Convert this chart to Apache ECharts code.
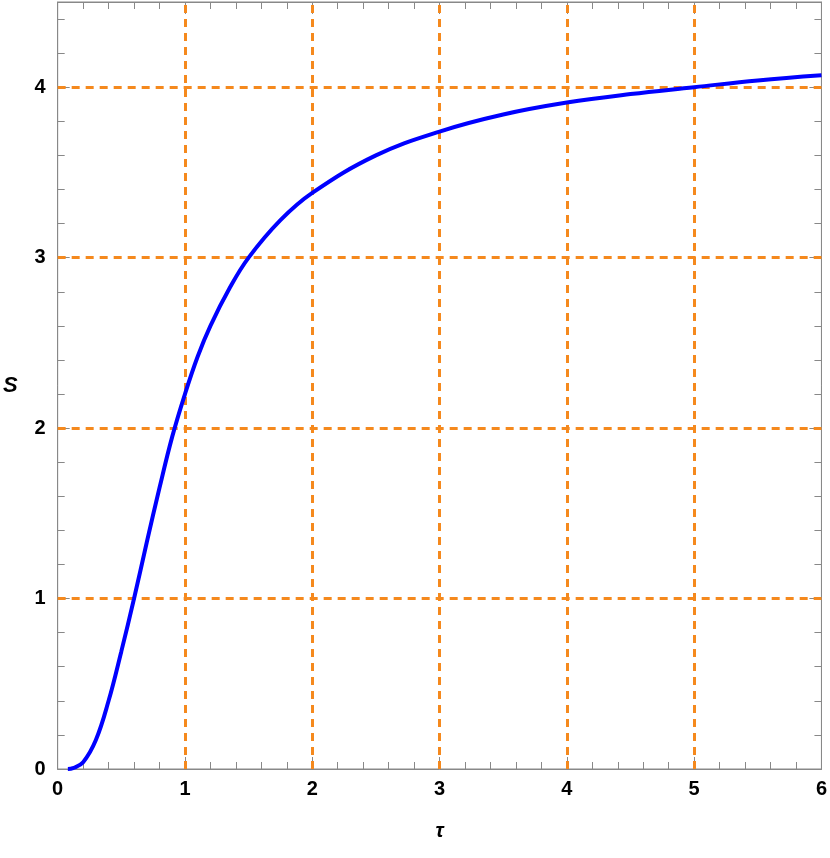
<!DOCTYPE html>
<html><head><meta charset="utf-8">
<script src="https://cdn.jsdelivr.net/npm/echarts@6/dist/echarts.min.js"></script>
<style>html,body{margin:0;padding:0;background:#fff}#c{width:830px;height:858px}</style>
</head><body><div id="c"></div>
<script>
const tauValues = [0.08,0.12,0.2,0.3,0.4,0.5,0.6,0.7,0.8,0.9,1.0,1.1,1.2,1.35,1.5,1.75,2.0,2.5,3.0,3.5,4.0,4.5,5.0,5.5,6.0];
const sValues   = [0.0,0.005,0.04,0.17,0.4,0.69,1.0,1.33,1.65,1.95,2.2,2.42,2.6,2.82,3.0,3.22,3.38,3.6,3.74,3.84,3.91,3.96,4.0,4.04,4.07];
const xGridLines = [1,2,3,4,5];
const yGridLines = [1,2,3,4];
const xTicks = [0,1,2,3,4,5,6];
const yTicks = [0,1,2,3,4];

const data = tauValues.map((t,i)=>[t,sValues[i]]);
const lbl = {fontFamily:'Liberation Sans',fontWeight:'bold',fontSize:20,color:'#000'};
function common(){return {
  show:true, gridIndex:0,
  axisLine:{show:true,onZero:false,lineStyle:{color:'#888',width:1}},
  axisTick:{show:true,inside:true,length:12,lineStyle:{color:'#888'}},
  minorTick:{show:true,splitNumber:5,length:7,lineStyle:{color:'#888'}},
  splitLine:{show:false}
};}
const chart = echarts.init(document.getElementById('c'));
chart.setOption({
  animation:false,
  grid:{left:53,right:8,top:2,bottom:89,show:true,borderColor:'#888',borderWidth:1},
  xAxis:[
    Object.assign(common(),{type:'value',min:0,max:6,interval:1,position:'bottom',
      name:'τ',nameLocation:'middle',nameGap:52,
      nameTextStyle:Object.assign({},lbl,{fontStyle:'italic',fontSize:20}),
      axisLabel:Object.assign({margin:10,formatter:v=>xTicks.includes(v)?String(v):''},lbl)}),
    Object.assign(common(),{type:'value',min:0,max:6,interval:1,position:'top',axisLabel:{show:false}})
  ],
  yAxis:[
    Object.assign(common(),{type:'value',min:0,max:4.5,interval:1,position:'left',
      name:'S',nameLocation:'middle',nameGap:40,nameRotate:0,
      nameTextStyle:Object.assign({},lbl,{fontStyle:'italic',fontSize:22}),
      axisLabel:Object.assign({margin:12,formatter:v=>yTicks.includes(v)?String(v):''},lbl)}),
    Object.assign(common(),{type:'value',min:0,max:4.5,interval:1,position:'right',axisLabel:{show:false}})
  ],
  series:[{
    type:'line',data:data,smooth:0.4,showSymbol:false,
    lineStyle:{color:'#0000ff',width:4},z:5,
    markLine:{silent:true,symbol:'none',label:{show:false},
      lineStyle:{color:'#f5891d',width:3,type:[8,6]},
      data:xGridLines.map(v=>({xAxis:v})).concat(yGridLines.map(v=>({yAxis:v})))}
  },
  {type:'line',xAxisIndex:1,yAxisIndex:1,data:[],showSymbol:false}]
});
</script></body></html>
